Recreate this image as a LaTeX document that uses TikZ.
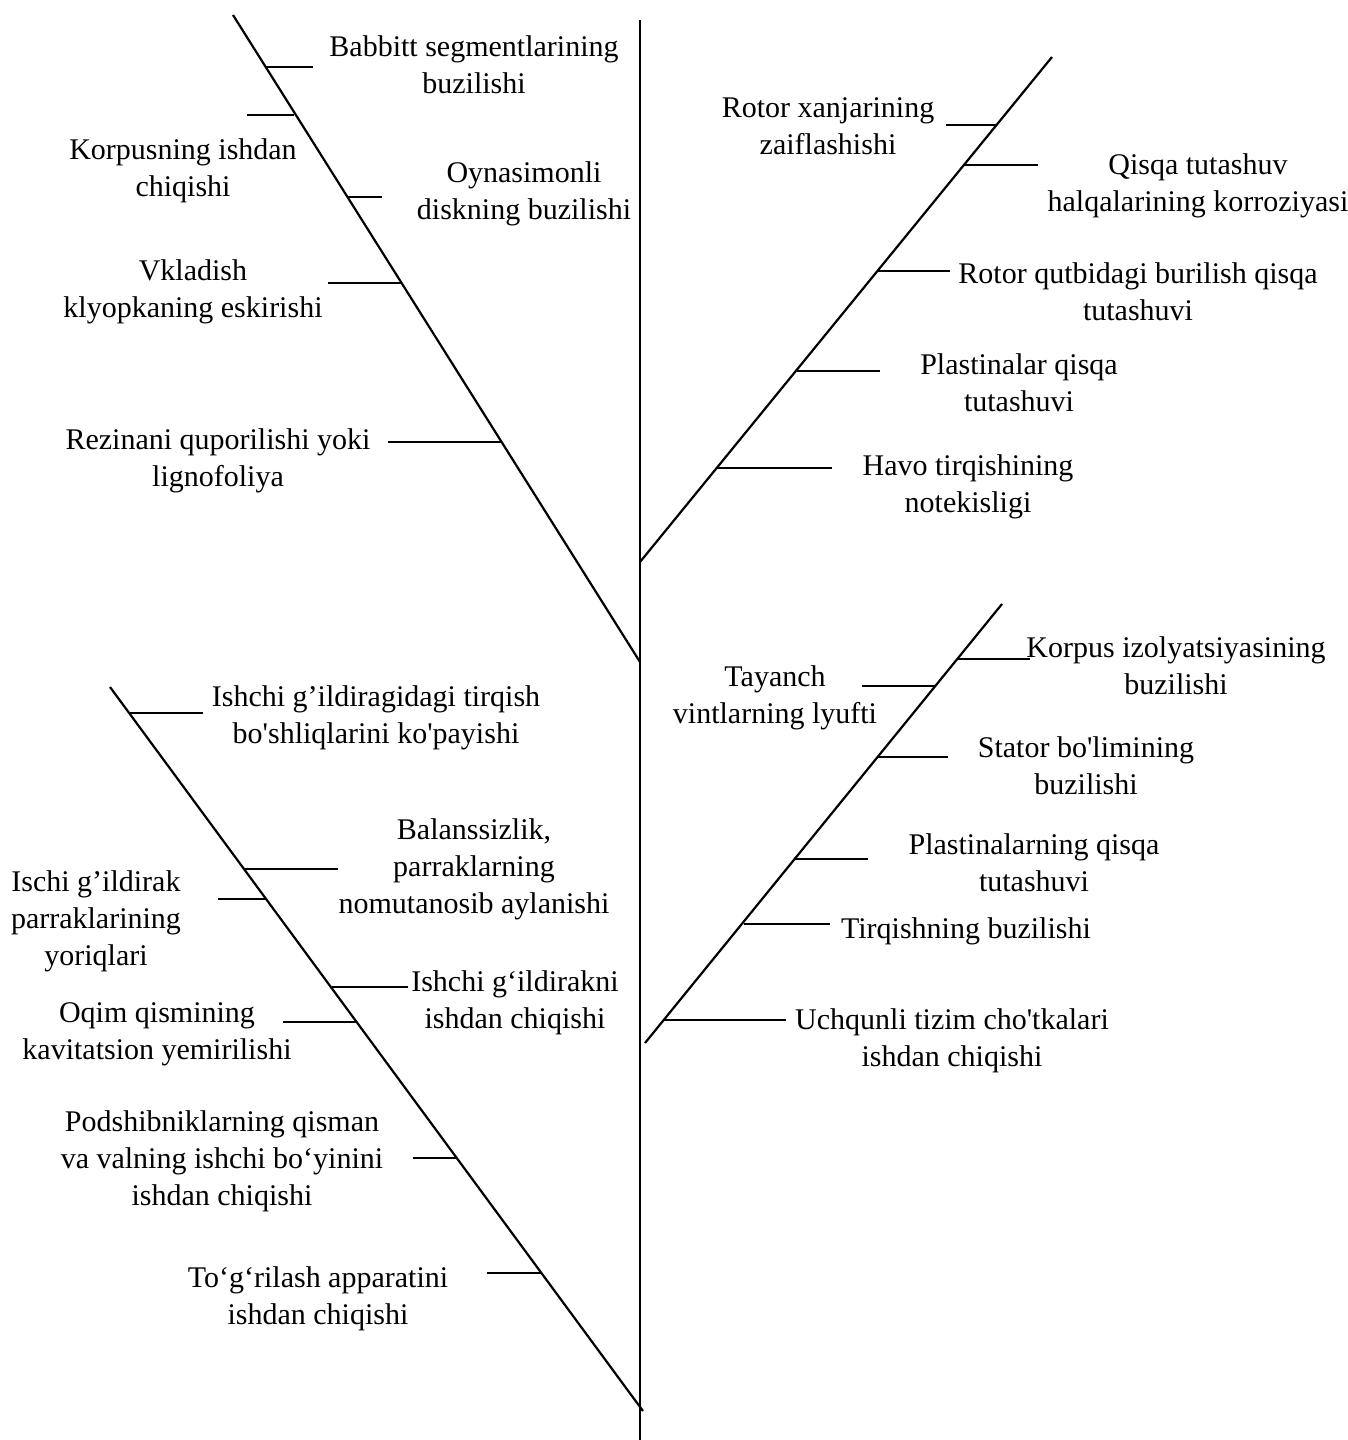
\documentclass[tikz,border=0pt]{standalone}
\usepackage{fontspec}
\setmainfont{Liberation Serif}[Ligatures=TeXOff]
\usepackage{tikz}
\usetikzlibrary{calc}

\begin{document}
\begin{tikzpicture}[
  x=0.5pt, y=-0.5pt,
  bone/.style={line width=1.1pt},
  tick/.style={line width=1.1pt},
  cause/.style={align=center, inner sep=0pt, yshift=-1.5pt, font=\fontsize{15}{18.5}\selectfont}
]
  \useasboundingbox (0,0) rectangle (1348,1440);

  % spine and branches
  \coordinate (top) at (640,20);
  \coordinate (bottom) at (640,1440);
  \coordinate (ulA) at (233,15);   \coordinate (ulB) at (640,662);
  \coordinate (urA) at (1052,57);  \coordinate (urB) at (640,562);
  \coordinate (lrA) at (1002,604); \coordinate (lrB) at (645,1043);
  \coordinate (llA) at (110,687);  \coordinate (llB) at (643,1411);
  \draw[bone] (top) -- (bottom);
  \draw[bone] (ulA) -- (ulB);
  \draw[bone] (urA) -- (urB);
  \draw[bone] (lrA) -- (lrB);
  \draw[bone] (llA) -- (llB);

  % upper left
  \node[cause] (babbitt) at (474,62) {Babbitt segmentlarining\\buzilishi};
  \node[cause] (korpusn) at (183,168) {Korpusning ishdan\\chiqishi};
  \node[cause] (oyna) at (524,191) {Oynasimonli\\diskning buzilishi};
  \node[cause] (vklad) at (193,289) {Vkladish\\klyopkaning eskirishi};
  \node[cause] (rezina) at (218,458) {Rezinani quporilishi yoki\\lignofoliya};
  \coordinate (ul1) at (265,67);  \draw[tick] (ul1) -- ++(48,0);
  \coordinate (ul2) at (294,115); \draw[tick] (ul2) -- ++(-47,0);
  \coordinate (ul3) at (348,197); \draw[tick] (ul3) -- ++(34,0);
  \coordinate (ul4) at (401,283); \draw[tick] (ul4) -- ++(-73,0);
  \coordinate (ul5) at (501,442); \draw[tick] (ul5) -- ++(-113,0);

  % upper right
  \node[cause] (xanjar) at (828,123) {Rotor xanjarining\\zaiflashishi};
  \node[cause] (qisqa) at (1198,183) {Qisqa tutashuv\\halqalarining korroziyasi};
  \node[cause] (qutb) at (1138,289) {Rotor qutbidagi burilish qisqa\\tutashuvi};
  \node[cause] (plast) at (1019,380) {Plastinalar qisqa\\tutashuvi};
  \node[cause] (havo) at (968,484) {Havo tirqishining\\notekisligi};
  \coordinate (ur1) at (997,125); \draw[tick] (ur1) -- ++(-51,0);
  \coordinate (ur2) at (964,165); \draw[tick] (ur2) -- ++(74,0);
  \coordinate (ur3) at (877,271); \draw[tick] (ur3) -- ++(73,0);
  \coordinate (ur4) at (797,371); \draw[tick] (ur4) -- ++(83,0);
  \coordinate (ur5) at (717,468); \draw[tick] (ur5) -- ++(115,0);

  % lower right
  \node[cause] (izol) at (1176,663) {Korpus izolyatsiyasining\\buzilishi};
  \node[cause] (tayanch) at (775,695) {Tayanch\\vintlarning lyufti};
  \node[cause] (stator) at (1086,763) {Stator bo'limining\\buzilishi};
  \node[cause] (plastq) at (1034,860) {Plastinalarning qisqa\\tutashuvi};
  \node[cause] (tirq) at (966,928) {Tirqishning buzilishi};
  \node[cause] (uchq) at (952,1038) {Uchqunli tizim cho'tkalari\\ishdan chiqishi};
  \coordinate (lr1) at (957,659);  \draw[tick] (lr1) -- ++(73,0);
  \coordinate (lr2) at (935,686);  \draw[tick] (lr2) -- ++(-73,0);
  \coordinate (lr3) at (878,757);  \draw[tick] (lr3) -- ++(70,0);
  \coordinate (lr4) at (795,859);  \draw[tick] (lr4) -- ++(73,0);
  \coordinate (lr5) at (744,924);  \draw[tick] (lr5) -- ++(86,0);
  \coordinate (lr6) at (664,1020); \draw[tick] (lr6) -- ++(122,0);

  % lower left
  \node[cause] (tirqish) at (376,715) {Ishchi g’ildiragidagi tirqish\\bo'shliqlarini ko'payishi};
  \node[cause] (balans) at (474,866) {Balanssizlik,\\parraklarning\\nomutanosib aylanishi};
  \node[cause] (yoriq) at (96,918) {Ischi g’ildirak\\parraklarining\\yoriqlari};
  \node[cause] (gildir) at (515,1000) {Ishchi g‘ildirakni\\ishdan chiqishi};
  \node[cause] (oqim) at (157,1031) {Oqim qismining\\kavitatsion yemirilishi};
  \node[cause] (podsh) at (222,1158) {Podshibniklarning qisman\\va valning ishchi bo‘yinini\\ishdan chiqishi};
  \node[cause] (togri) at (318,1296) {To‘g‘rilash apparatini\\ishdan chiqishi};
  \coordinate (ll1) at (130,713);  \draw[tick] (ll1) -- ++(73,0);
  \coordinate (ll2) at (245,869);  \draw[tick] (ll2) -- ++(93,0);
  \coordinate (ll3) at (267,899);  \draw[tick] (ll3) -- ++(-49,0);
  \coordinate (ll4) at (332,987);  \draw[tick] (ll4) -- ++(76,0);
  \coordinate (ll5) at (357,1022); \draw[tick] (ll5) -- ++(-74,0);
  \coordinate (ll6) at (457,1158); \draw[tick] (ll6) -- ++(-44,0);
  \coordinate (ll7) at (541,1273); \draw[tick] (ll7) -- ++(-54,0);
\end{tikzpicture}
\end{document}
